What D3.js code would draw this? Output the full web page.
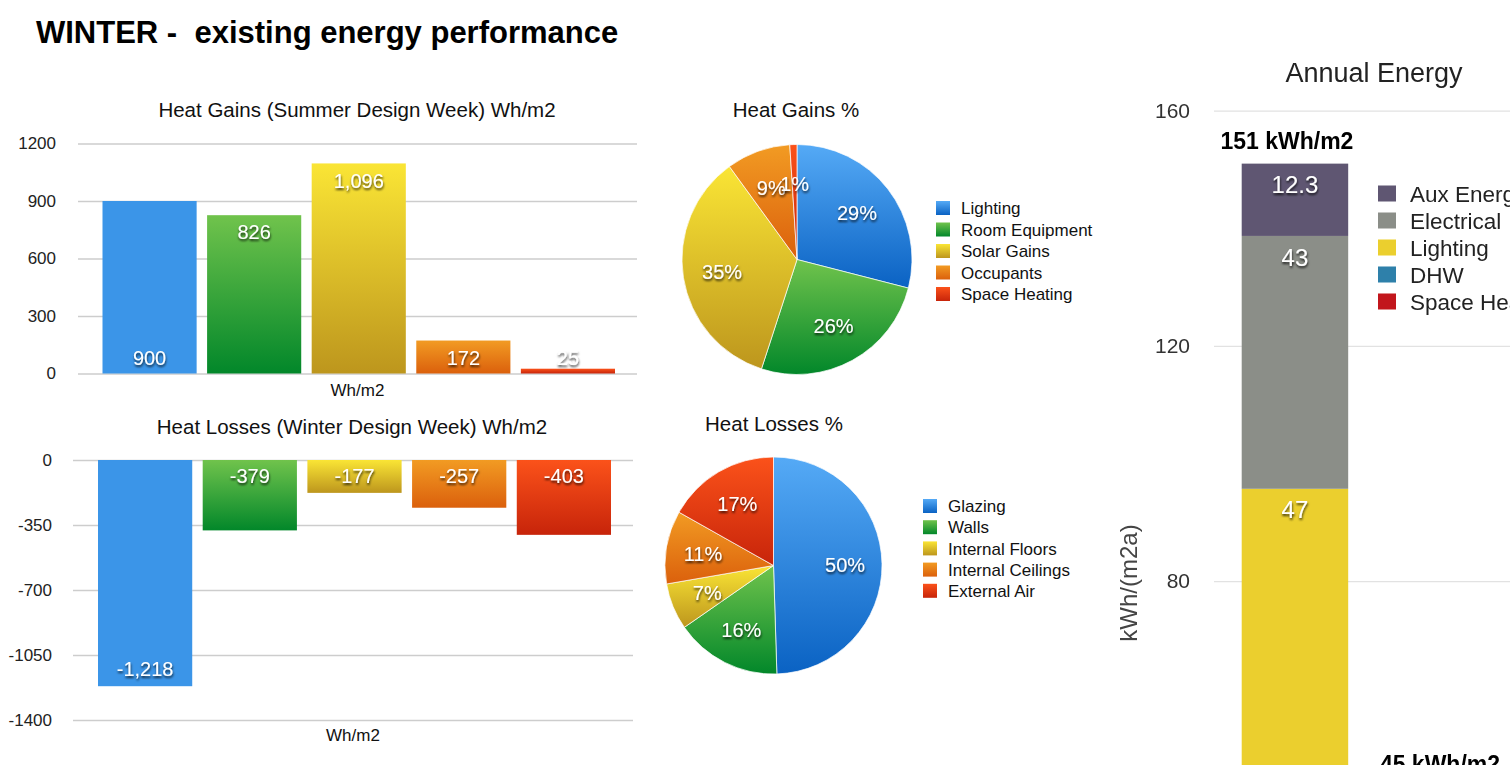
<!DOCTYPE html>
<html>
<head>
<meta charset="utf-8">
<script src="https://cdn.jsdelivr.net/npm/d3@7"></script>
<style>
  body { margin: 0; background: #fff; overflow: hidden; }
  svg { display: block; }
  text { font-family: "Liberation Sans", Arial, Helvetica, sans-serif; }
</style>
</head>
<body>
<svg id="chart" width="1510" height="765"></svg>
<script>
// ---- data ----
const gainCategories = ["Lighting", "Room Equipment", "Solar Gains", "Occupants", "Space Heating"];
const gainValues = [900, 826, 1096, 172, 25];
const gainTicks = [0, 300, 600, 900, 1200];
const gainShares = [29, 26, 35, 9, 1];

const lossCategories = ["Glazing", "Walls", "Internal Floors", "Internal Ceilings", "External Air"];
const lossValues = [-1218, -379, -177, -257, -403];
const lossTicks = [0, -350, -700, -1050, -1400];
const lossShares = [50, 16, 7, 11, 17];

// annual energy, stacked from the bottom up
const energyCategories = ["Space Heating", "DHW", "Lighting", "Electrical", "Aux Energy"];
const energyColumns = ["Existing", "Proposed"];
const existingEnergy = [44.4, 4.3, 47, 43, 12.3];
const energyTotals = [151, 45];
const energyTicks = [80, 120, 160];

// ---- page ----
const svg = d3.select("#chart");
const defs = svg.append("defs");
const hyphen = s => String(s).replace(/\u2212/g, "-");

const shadow = defs.append("filter").attr("id", "txtShadow")
  .attr("x", "-20%").attr("y", "-30%").attr("width", "140%").attr("height", "170%");
shadow.append("feDropShadow").attr("dx", 0.5).attr("dy", 2).attr("stdDeviation", 1.3)
  .attr("flood-color", "#000").attr("flood-opacity", 0.75);

const soft = defs.append("filter").attr("id", "soft");
soft.append("feGaussianBlur").attr("stdDeviation", 0.45);

// vertical gradients used by bars, slices and swatches
const ramps = {
  blue:   ["#55aaf6", "#0a62c3"],
  green:  ["#70c34c", "#02872a"],
  yellow: ["#fae535", "#bd961d"],
  orange: ["#f29b23", "#db600c"],
  red:    ["#fb521a", "#c7240a"]
};
Object.entries(ramps).forEach(([k, [c0, c1]]) => {
  const g = defs.append("linearGradient").attr("id", "g-" + k)
    .attr("x1", 0).attr("y1", 0).attr("x2", 0).attr("y2", 1);
  g.append("stop").attr("offset", "0%").attr("stop-color", c0);
  g.append("stop").attr("offset", "100%").attr("stop-color", c1);
});
const rampKeys = ["blue", "green", "yellow", "orange", "red"];
const barFill = i => i === 0 ? "#3b95e8" : `url(#g-${rampKeys[i]})`;
const rampFill = i => `url(#g-${rampKeys[i]})`;

// main heading
svg.append("text").attr("x", 36).attr("y", 43).style("white-space", "pre")
  .attr("font-size", 31).attr("font-weight", "bold").attr("fill", "#000")
  .text("WINTER -  existing energy performance");

// ---- bar chart helper ----
function barChart(opt) {
  const g = svg.append("g");
  const x = d3.scaleBand().domain(opt.categories).range(opt.xRange).paddingInner(0.1);
  const y = d3.scaleLinear().domain(opt.domain).range(opt.yRange);

  const axis = g.append("g").attr("transform", `translate(${opt.gridX[0]},0)`)
    .call(d3.axisLeft(y).tickValues(opt.ticks).tickFormat(d => hyphen(d3.format("d")(d)))
      .tickSize(-(opt.gridX[1] - opt.gridX[0])).tickPadding(opt.tickPad));
  axis.select(".domain").remove();
  axis.selectAll(".tick line").attr("stroke", "#cdcdcd").attr("stroke-width", 1.5);
  axis.selectAll(".tick text").attr("font-size", 17).attr("fill", "#222")
    .attr("font-family", '"Liberation Sans", Arial, sans-serif');

  g.selectAll("rect.bar").data(opt.values).join("rect").attr("class", "bar")
    .attr("x", (d, i) => x(opt.categories[i]))
    .attr("width", x.bandwidth())
    .attr("y", d => Math.min(y(0), y(d)))
    .attr("height", d => Math.abs(y(d) - y(0)))
    .attr("fill", (d, i) => barFill(i));

  const fmt = d3.format(",");
  g.selectAll("text.val").data(opt.values).join("text").attr("class", "val")
    .attr("x", (d, i) => x(opt.categories[i]) + x.bandwidth() / 2)
    .attr("y", (d, i) => {
      const dir = d >= 0 ? -1 : 1;              // direction the bar grows on screen
      return opt.atBase[i] ? y(0) + dir * 16 : y(d) - dir * 17;
    })
    .attr("dy", "0.36em").attr("text-anchor", "middle")
    .attr("font-size", 20).attr("fill", "#fff").attr("filter", "url(#txtShadow)")
    .text(d => hyphen(fmt(d)));

  g.append("text").attr("x", opt.titleX).attr("y", opt.titleY).attr("dy", "0.36em")
    .attr("text-anchor", "middle").attr("font-size", 20.5).attr("fill", "#111").text(opt.title);
  g.append("text").attr("x", (opt.gridX[0] + opt.gridX[1]) / 2).attr("y", opt.unitY).attr("dy", "0.36em")
    .attr("text-anchor", "middle").attr("font-size", 17).attr("fill", "#111").text("Wh/m2");
}

barChart({
  categories: gainCategories, values: gainValues, ticks: gainTicks,
  domain: [0, 1200], yRange: [373.5, 143.5], xRange: [102.5, 615],
  gridX: [78, 637], tickPad: 22, atBase: [true, false, false, true, true],
  title: "Heat Gains (Summer Design Week) Wh/m2", titleX: 357, titleY: 110, unitY: 390
});

barChart({
  categories: lossCategories, values: lossValues, ticks: lossTicks,
  domain: [-1400, 0], yRange: [720, 460], xRange: [98, 611],
  gridX: [73, 633], tickPad: 21, atBase: [false, true, true, true, true],
  title: "Heat Losses (Winter Design Week) Wh/m2", titleX: 352, titleY: 427, unitY: 735
});

// ---- pie helper ----
function pieChart(opt) {
  const g = svg.append("g");
  const arcs = d3.pie().sort(null).value(d => d)(opt.shares);
  const arc = d3.arc().innerRadius(0).outerRadius(opt.r);
  const labelArc = d3.arc().innerRadius(opt.r * 0.66).outerRadius(opt.r * 0.66);
  const pg = g.append("g").attr("transform", `translate(${opt.cx},${opt.cy})`);

  pg.selectAll("path").data(arcs).join("path")
    .attr("d", arc).attr("fill", (d, i) => rampFill(i))
    .attr("stroke", "#fff").attr("stroke-width", 0.7);
  pg.selectAll("text").data(arcs).join("text")
    .attr("transform", d => `translate(${labelArc.centroid(d)})`)
    .attr("dy", "0.36em").attr("text-anchor", "middle")
    .attr("font-size", 20).attr("fill", "#fff").attr("filter", "url(#txtShadow)")
    .text(d => d.data + "%");

  g.append("text").attr("x", opt.titleX).attr("y", opt.titleY).attr("dy", "0.36em")
    .attr("text-anchor", "middle").attr("font-size", 20.5).attr("fill", "#111").text(opt.title);

  const lg = g.append("g");
  opt.categories.forEach((c, i) => {
    const cy = opt.legY + i * opt.legStep;
    lg.append("rect").attr("x", opt.legX).attr("y", cy - 7).attr("width", 14).attr("height", 14)
      .attr("fill", rampFill(i));
    lg.append("text").attr("x", opt.legX + 25).attr("y", cy).attr("dy", "0.36em")
      .attr("font-size", 17).attr("fill", "#111").text(c);
  });
}

pieChart({
  shares: gainShares, categories: gainCategories, cx: 797, cy: 259.5, r: 115,
  title: "Heat Gains %", titleX: 796, titleY: 110, legX: 936, legY: 208, legStep: 21.5
});

pieChart({
  shares: lossShares, categories: lossCategories, cx: 773.5, cy: 565.5, r: 108.5,
  title: "Heat Losses %", titleX: 774, titleY: 424, legX: 923, legY: 506, legStep: 21.2
});

// ---- annual energy stacked column ----
(function () {
  const g = svg.append("g").attr("filter", "url(#soft)");
  const energyColors = {
    "Space Heating": "#c2161b", "DHW": "#2f80aa", "Lighting": "#ebcf2e",
    "Electrical": "#8b8e88", "Aux Energy": "#5f5772"
  };
  const y = d3.scaleLinear().domain([0, 160]).range([1051.5, 110.7]);
  const x = d3.scaleBand().domain(energyColumns).range([1241.7, 1501.2]).paddingInner(0.304);

  const axis = g.append("g").attr("transform", "translate(1214,0)")
    .call(d3.axisLeft(y).tickValues(energyTicks).tickSize(-310).tickPadding(24));
  axis.select(".domain").remove();
  axis.selectAll(".tick line").attr("stroke", "#e2e2e2").attr("stroke-width", 1.2);
  axis.selectAll(".tick text").attr("font-size", 21).attr("fill", "#333")
    .attr("font-family", '"Liberation Sans", Arial, sans-serif');

  const stack = d3.stack().keys(energyCategories)(
    [Object.fromEntries(energyCategories.map((k, i) => [k, existingEnergy[i]]))]);
  const bx = x(energyColumns[0]);
  stack.forEach(layer => {
    const [y0, y1] = layer[0];
    g.append("rect").attr("x", bx).attr("width", x.bandwidth())
      .attr("y", y(y1)).attr("height", y(y0) - y(y1)).attr("fill", energyColors[layer.key]);
    g.append("text").attr("x", bx + x.bandwidth() / 2).attr("y", y(y1) + 21).attr("dy", "0.36em")
      .attr("text-anchor", "middle").attr("font-size", 24).attr("fill", "#fff")
      .attr("filter", "url(#txtShadow)").text(+(y1 - y0).toFixed(1));
  });

  energyColumns.forEach((c, i) => {
    g.append("text").attr("x", x(c) + x.bandwidth() / 2 - 8).attr("y", y(energyTotals[i]) - 15)
      .attr("text-anchor", "middle").attr("font-size", 23).attr("font-weight", "bold")
      .attr("fill", "#000").text(energyTotals[i] + " kWh/m2");
  });

  g.append("text").attr("x", 1374).attr("y", 72).attr("dy", "0.36em").attr("text-anchor", "middle")
    .attr("font-size", 27).attr("fill", "#222").text("Annual Energy");
  g.append("text").attr("transform", "translate(1128,583) rotate(-90)").attr("dy", "0.36em")
    .attr("text-anchor", "middle").attr("font-size", 24).attr("fill", "#444").text("kWh/(m2a)");

  energyCategories.slice().reverse().forEach((c, i) => {
    const cy = 193.5 + i * 27;
    g.append("rect").attr("x", 1378).attr("y", cy - 8).attr("width", 18).attr("height", 16)
      .attr("fill", energyColors[c]);
    g.append("text").attr("x", 1410).attr("y", cy).attr("dy", "0.36em")
      .attr("font-size", 22.5).attr("fill", "#222").text(c);
  });
})();
</script>
</body>
</html>
